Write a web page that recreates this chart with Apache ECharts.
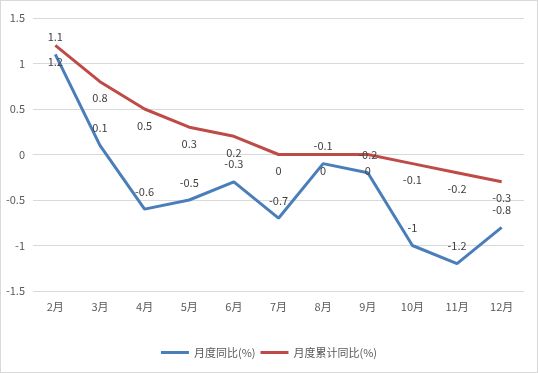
<!DOCTYPE html>
<html>
<head>
<meta charset="utf-8">
<script src="https://cdn.jsdelivr.net/npm/echarts@6/dist/echarts.min.js"></script>
<style>
html,body{margin:0;padding:0;background:#fff;}
#c{position:absolute;left:0;top:0;width:536px;height:371px;border:1px solid #d9d9d9;}
</style>
</head>
<body>
<div id="c"></div>
<script>
const categories = ['2月','3月','4月','5月','6月','7月','8月','9月','10月','11月','12月'];
const monthlyYoY = [1.1, 0.1, -0.6, -0.5, -0.3, -0.7, -0.1, -0.2, -1, -1.2, -0.8];
const cumulativeYoY = [1.2, 0.8, 0.5, 0.3, 0.2, 0, 0, 0, -0.1, -0.2, -0.3];
const seriesNames = ['月度同比(%)', '月度累计同比(%)'];

const font = '"Noto Sans CJK SC", "Liberation Sans", sans-serif';
const chart = echarts.init(document.getElementById('c'));
chart.setOption({
  animation: false,
  grid: {left: 32, right: 13, top: 17, bottom: 81, containLabel: false},
  legend: {
    bottom: 9, left: 'center',
    itemWidth: 28, itemHeight: 3, itemGap: 5,
    icon: 'rect',
    textStyle: {color: '#595959', fontSize: 11, fontFamily: font},
    data: seriesNames
  },
  xAxis: {
    type: 'category', data: categories, boundaryGap: true,
    axisLine: {show: true, lineStyle: {color: '#d9d9d9'}},
    axisTick: {show: false},
    axisLabel: {color: '#595959', fontSize: 11, fontFamily: font, margin: 10}
  },
  yAxis: {
    type: 'value', min: -1.5, max: 1.5, interval: 0.5,
    axisLine: {show: false}, axisTick: {show: false},
    splitLine: {lineStyle: {color: '#d9d9d9', width: 1}},
    axisLabel: {color: '#595959', fontSize: 11, fontFamily: font, margin: 8}
  },
  series: [
    {
      name: seriesNames[0], type: 'line', data: monthlyYoY,
      symbol: 'circle', symbolSize: 0, showSymbol: true,
      lineStyle: {color: '#4a7ebb', width: 3},
      itemStyle: {color: '#4a7ebb'},
      label: {show: true, position: 'top', distance: 12, color: '#404040', fontSize: 11, fontFamily: font}
    },
    {
      name: seriesNames[1], type: 'line', data: cumulativeYoY,
      symbol: 'circle', symbolSize: 0, showSymbol: true,
      lineStyle: {color: '#be4b48', width: 3},
      itemStyle: {color: '#be4b48'},
      label: {show: true, position: 'bottom', distance: 11, color: '#404040', fontSize: 11, fontFamily: font}
    }
  ]
});
</script>
</body>
</html>
